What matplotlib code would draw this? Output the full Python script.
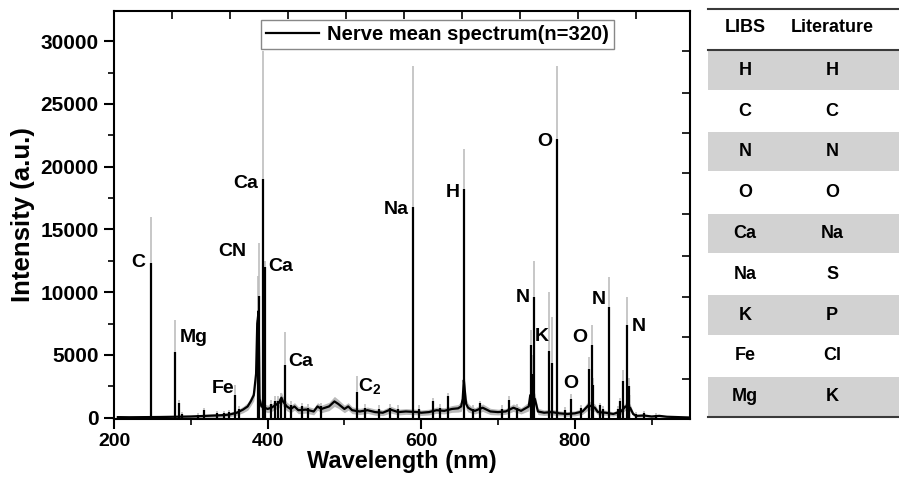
"""
LIBS mean spectrum of nerve tissue with element table
"""
import matplotlib
matplotlib.use("Agg")
import matplotlib.pyplot as plt
from matplotlib.patches import Rectangle

plt.rcParams['font.family'] = ['Liberation Sans', 'DejaVu Sans']
plt.rcParams['font.weight'] = 'bold'
plt.rcParams['mathtext.fontset'] = 'custom'
plt.rcParams['mathtext.rm'] = 'Liberation Sans:bold'
plt.rcParams['mathtext.it'] = 'Liberation Sans:bold'
plt.rcParams['mathtext.bf'] = 'Liberation Sans:bold'

# continuum (mean and standard deviation)
base_nm = [205, 220, 240, 260, 280, 300, 320, 340, 350, 360, 368, 374, 378, 382, 385,
           386.5, 388.3, 389.5, 392, 400, 405, 410, 415, 418, 420, 425, 430, 435, 440,
           450, 460, 465, 470, 480, 487, 492, 500, 505, 510, 520, 530, 540, 550, 560,
           570, 580, 595, 600, 610, 620, 630, 640, 648, 652, 654, 655.5, 657, 658.5,
           661, 665, 670, 680, 690, 700, 710, 720, 730, 740, 742, 748, 752, 760, 770,
           780, 790, 800, 810, 818, 826, 830, 840, 850, 860, 866, 872, 876, 880, 890,
           900, 910, 920, 930, 940, 950]
base_mean = [50, 40, 50, 60, 80, 100, 150, 200, 250, 400, 650, 900, 1300, 1800, 3500,
             7500, 8500, 1500, 900, 700, 800, 1000, 1200, 1600, 1300, 900, 700, 900, 600,
             650, 500, 900, 700, 900, 1300, 1100, 700, 900, 600, 500, 600, 450, 400, 650,
             450, 500, 450, 400, 450, 600, 550, 700, 750, 900, 1500, 3000, 2000, 1100,
             800, 650, 550, 800, 500, 450, 500, 800, 550, 900, 1800, 1500, 500, 400, 450,
             350, 300, 350, 500, 1000, 800, 450, 400, 300, 500, 900, 800, 300, 150, 180,
             100, 150, 80, 60, 40, 20]
base_sd = [60, 60, 70, 80, 90, 100, 130, 150, 170, 200, 250, 300, 350, 450, 600,
           900, 1000, 450, 300, 300, 300, 350, 400, 450, 400, 350, 300, 300, 280,
           280, 270, 300, 300, 330, 400, 350, 300, 300, 270, 250, 250, 250, 230, 270,
           230, 230, 220, 220, 230, 250, 250, 270, 300, 400, 600, 900, 700, 450,
           350, 270, 250, 300, 250, 230, 230, 300, 250, 350, 550, 450, 250, 220, 220,
           200, 180, 200, 230, 350, 300, 220, 200, 170, 220, 300, 300, 150, 110, 110,
           90, 90, 70, 60, 50, 30]

# emission lines: wavelength, mean intensity, mean + sd
peak_nm = [247.9, 279.6, 285.2, 288.0, 309.0, 317.0, 334.0, 343.0, 350.0, 358.1,
           363.0, 387.1, 388.3, 393.4, 396.8, 404.0, 410.0, 413.0, 417.0, 422.7,
           430.0, 445.0, 453.0, 470.0, 516.5, 527.0, 545.0, 560.0, 570.0, 589.0,
           597.0, 615.0, 625.0, 635.0, 656.3, 668.0, 677.0, 705.0, 714.0, 725.0,
           742.4, 744.2, 746.8, 766.5, 769.9, 777.4, 787.0, 794.8, 808.4, 818.5,
           822.2, 824.2, 833.0, 837.0, 844.6, 856.8, 859.4, 862.9, 868.0, 870.3,
           871.2, 880.0, 890.0, 906.0]
peak_mean = [12300, 5200, 1200, 300, 250, 600, 400, 350, 450, 1800,
             700, 7800, 9700, 19000, 12000, 1100, 1300, 1300, 1500, 4200,
             1000, 900, 800, 900, 2080, 800, 700, 800, 700, 16750,
             700, 1300, 800, 1700, 18200, 700, 1150, 700, 1400, 800,
             5800, 3500, 9600, 5350, 4400, 22200, 600, 1500, 800, 3900,
             5800, 2600, 1000, 700, 8850, 700, 1300, 2950, 7400, 2500,
             1800, 300, 350, 200]
peak_upper = [16000, 7800, 1450, 450, 400, 800, 550, 500, 650, 2600,
              950, 11300, 13900, 29200, 12500, 1400, 1700, 1700, 2000, 6800,
              1300, 1200, 1100, 1200, 3350, 1100, 1000, 1100, 1000, 28000,
              1000, 1550, 1100, 2000, 21400, 1000, 1350, 1000, 1700, 1100,
              7000, 5000, 12450, 10000, 8050, 28000, 850, 1900, 1000, 4800,
              7400, 3200, 1200, 950, 11250, 900, 1600, 3800, 9650, 3200,
              2200, 450, 500, 350]

# peak annotations: text, wavelength, intensity
label_text = ['C', 'Mg', 'Fe', 'CN', 'Ca', 'Ca', 'Ca', 'C$_2$', 'Na', 'H',
              'O', 'N', 'K', 'O', 'O', 'N', 'N']
label_nm = [232, 304, 342, 354, 372, 417, 443, 533, 567, 641,
            761, 732, 757, 795, 807, 831, 884]
label_int = [12350, 6380, 2300, 13250, 18670, 12050, 4470, 2550, 16600, 17950,
             22000, 9560, 6460, 2700, 6380, 9400, 7250]

# comparison table
table_header = ['LIBS', 'Literature']
libs_elements = ['H', 'C', 'N', 'O', 'Ca', 'Na', 'K', 'Fe', 'Mg']
literature_elements = ['H', 'C', 'N', 'O', 'Na', 'S', 'P', 'Cl', 'K']

fig = plt.figure(figsize=(8.99, 4.8), dpi=100)
ax = fig.add_axes([114 / 899, 61 / 480, 576 / 899, 408 / 480])

lo = [m - s for m, s in zip(base_mean, base_sd)]
hi = [m + s for m, s in zip(base_mean, base_sd)]
ax.fill_between(base_nm, lo, hi, color='#b9b9b9', lw=0, zorder=1)
ax.vlines(peak_nm, 0, peak_upper, color='#bdbdbd', lw=1.2, zorder=2)
ax.plot(base_nm, base_mean, color='black', lw=1.6, zorder=3,
        label='Nerve mean spectrum(n=320)')
ax.vlines(peak_nm, 0, peak_mean, color='black', lw=1.6, zorder=4)

for t, x, y in zip(label_text, label_nm, label_int):
    ax.text(x, y, t, fontsize=14, fontweight='bold', ha='center', va='center')

ax.set_xlim(200, 950)
ax.set_ylim(-100, 32400)
ax.set_xticks([200, 400, 600, 800])
ax.set_xticks([300, 500, 700, 900], minor=True)
ax.set_yticks(range(0, 30001, 5000))
ax.set_yticks(range(2500, 30001, 5000), minor=True)
ax.tick_params(which='major', direction='out', length=7, width=1.5,
               labelsize=15, pad=4)
ax.tick_params(which='minor', direction='out', length=4, width=1.2)
ax.tick_params(axis='x', labelsize=14, pad=3)
for s in ax.spines.values():
    s.set_linewidth(1.5)
ax.set_xlabel('Wavelength (nm)', fontsize=17, fontweight='bold', labelpad=0)
ax.set_ylabel('Intensity (a.u.)', fontsize=18.5, fontweight='bold', labelpad=4)

# stray inward ticks on the top and right frame
top = ax.secondary_xaxis('top')
top.set_xticks([275, 351, 427, 502, 578, 653, 729, 804, 880])
top.tick_params(direction='in', length=6, width=1.2, labeltop=False)
top.spines['top'].set_visible(False)
right = ax.secondary_yaxis('right')
right.set_yticks([3100, 6400, 9650, 12900, 16200, 19500, 22700, 25900, 29200])
right.tick_params(direction='in', length=6, width=1.2, labelright=False)
right.spines['right'].set_visible(False)

leg = ax.legend(loc='upper center', bbox_to_anchor=(0.5616, 0.978), fontsize=14.5,
                handlelength=2.6, handletextpad=0.4, borderpad=0.25,
                borderaxespad=0, fancybox=False, framealpha=1, edgecolor='#888888')
leg.get_frame().set_linewidth(1.0)

# element table on the right
tab = fig.add_axes([708 / 899, 63 / 480, 191 / 899, 408 / 480])
n_rows = len(libs_elements) + 1
tab.set_xlim(0, 1)
tab.set_ylim(n_rows, 0)
tab.axis('off')
col_x = [0.194, 0.65]
for j, h in enumerate(table_header):
    tab.text(col_x[j], 0.45, h, fontsize=13, fontweight='bold', ha='center', va='center')
for i, (a, b) in enumerate(zip(libs_elements, literature_elements)):
    r = i + 1
    if i % 2 == 0:
        tab.add_patch(Rectangle((0, r + 0.02), 1, 0.96, color='#d2d2d2', lw=0))
    tab.text(col_x[0], r + 0.5, a, fontsize=13, fontweight='bold', ha='center', va='center')
    tab.text(col_x[1], r + 0.5, b, fontsize=13, fontweight='bold', ha='center', va='center')
for yl in [0, 1, n_rows]:
    tab.plot([0, 1], [yl, yl], color='#3a3a3a', lw=1.5, clip_on=False)

plt.savefig('out.png', dpi=100)
